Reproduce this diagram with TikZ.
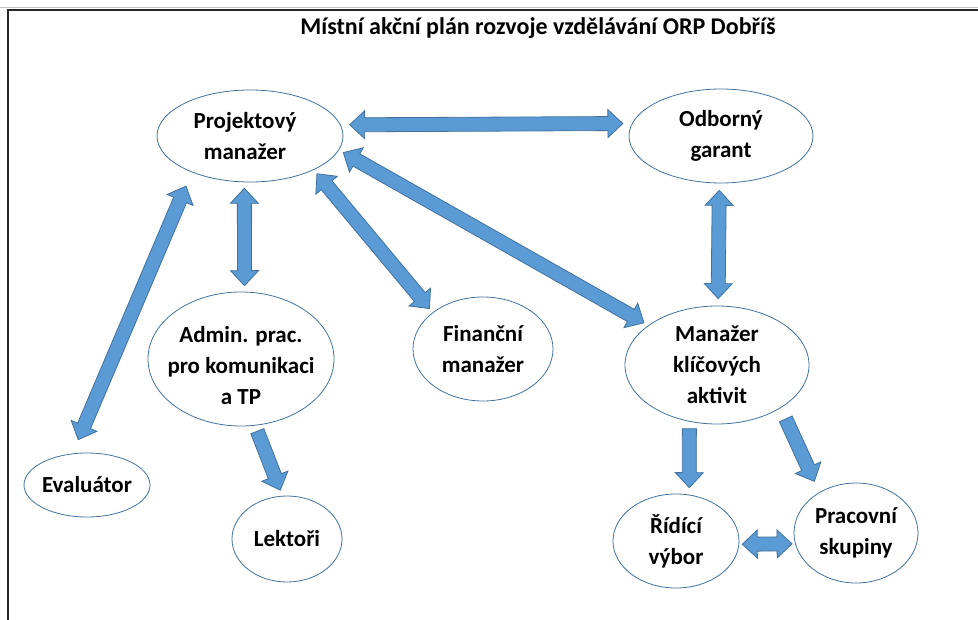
\documentclass[tikz,border=0pt]{standalone}
\usepackage{fontspec}
\setmainfont{Carlito}
\usetikzlibrary{shapes.geometric,calc}

\definecolor{arrowfill}{HTML}{5B9BD5}
\definecolor{arrowline}{HTML}{41719C}

\tikzset{
  bubble/.style={ellipse, draw=arrowline, line width=0.8pt, inner sep=0pt},
  words/.style={align=center, text=black, font=\fontsize{23}{31}\selectfont\bfseries},
  blockarrow/.style={fill=arrowfill, draw=arrowline, line width=0.8pt, line join=miter},
  frame/.style={draw=black!85, line width=1.2pt}
}

% one-headed block arrow: [gap]{from}{to}
\newcommand{\onearrow}[3][6pt]{%
  \coordinate (s) at ($(#2)!#1!(#3)$);
  \coordinate (t) at ($(#3)!#1!(#2)$);
  \coordinate (ht) at ($(t)!15pt!(s)$);
  \draw[blockarrow] ($(s)!7pt!90:(t)$) -- ($(ht)!7pt!-90:(s)$) -- ($(ht)!14pt!-90:(s)$)
    -- (t) -- ($(ht)!14pt!90:(s)$) -- ($(ht)!7pt!90:(s)$) -- ($(s)!7pt!-90:(t)$) -- cycle;
}
% two-headed block arrow: [gap]{from}{to}
\newcommand{\twoarrow}[3][6pt]{%
  \coordinate (s) at ($(#2)!#1!(#3)$);
  \coordinate (t) at ($(#3)!#1!(#2)$);
  \coordinate (hs) at ($(s)!15pt!(t)$);
  \coordinate (ht) at ($(t)!15pt!(s)$);
  \draw[blockarrow] (s) -- ($(hs)!14pt!90:(t)$) -- ($(hs)!7pt!90:(t)$)
    -- ($(ht)!7pt!-90:(s)$) -- ($(ht)!14pt!-90:(s)$) -- (t)
    -- ($(ht)!14pt!90:(s)$) -- ($(ht)!7pt!90:(s)$)
    -- ($(hs)!7pt!-90:(t)$) -- ($(hs)!14pt!-90:(t)$) -- cycle;
}

\begin{document}
\begin{tikzpicture}[x=1pt, y=-1pt]
\useasboundingbox (0,0) rectangle (978,620);

% frame
\draw[gray!50, line width=0.6pt] (0,7) -- (978,7);
\draw[frame] (8,620) -- (8,10) -- (978,10);

\node[words, font=\fontsize{24}{30}\selectfont\bfseries] (head) at (538,28) {Místní akční plán rozvoje vzdělávání ORP Dobříš};

% people
\node[bubble, minimum width=186pt, minimum height=92pt,
  label={[words, xshift=-5pt]center:Projektový\\manažer}] (pm) at (250,136) {};
\node[bubble, minimum width=184pt, minimum height=94pt,
  label={[words]center:Odborný\\garant}] (og) at (721,136) {};
\node[bubble, minimum width=186pt, minimum height=134pt,
  label={[words, yshift=-7pt]center:Admin. prac.\\pro komunikaci\\a TP}] (adm) at (241,359) {};
\node[bubble, minimum width=140pt, minimum height=104pt,
  label={[words]center:Finanční\\manažer}] (fin) at (483,349) {};
\node[bubble, minimum width=184pt, minimum height=118pt,
  label={[words]center:Manažer\\klíčových\\aktivit}] (mka) at (717,365) {};
\node[bubble, minimum width=126pt, minimum height=64pt,
  label={[words]center:Evaluátor}] (ev) at (87,485) {};
\node[bubble, minimum width=110pt, minimum height=86pt,
  label={[words]center:Lektoři}] (lek) at (287,539) {};
\node[bubble, minimum width=126pt, minimum height=94pt,
  label={[words]center:Řídící\\výbor}] (rid) at (676,541) {};
\node[bubble, minimum width=124pt, minimum height=100pt,
  label={[words]center:Pracovní\\skupiny}] (prac) at (856,533) {};

% arrows
\twoarrow[9pt]{pm.7}{og.172}
\twoarrow[6pt]{pm.-97}{adm.87}
\twoarrow[15pt]{pm.-148}{ev.115}
\twoarrow[5pt]{pm.-28}{fin.144}
\twoarrow[5pt]{pm.-9}{mka.150}
\twoarrow[7pt]{og.-92}{mka.89}
\onearrow[6pt]{adm.-78}{lek.96}
\onearrow[7pt]{mka.-116}{rid.74}
\onearrow[12pt]{mka.-34}{prac.132}
\twoarrow[3pt]{rid.-3}{prac.-170}
\end{tikzpicture}
\end{document}
